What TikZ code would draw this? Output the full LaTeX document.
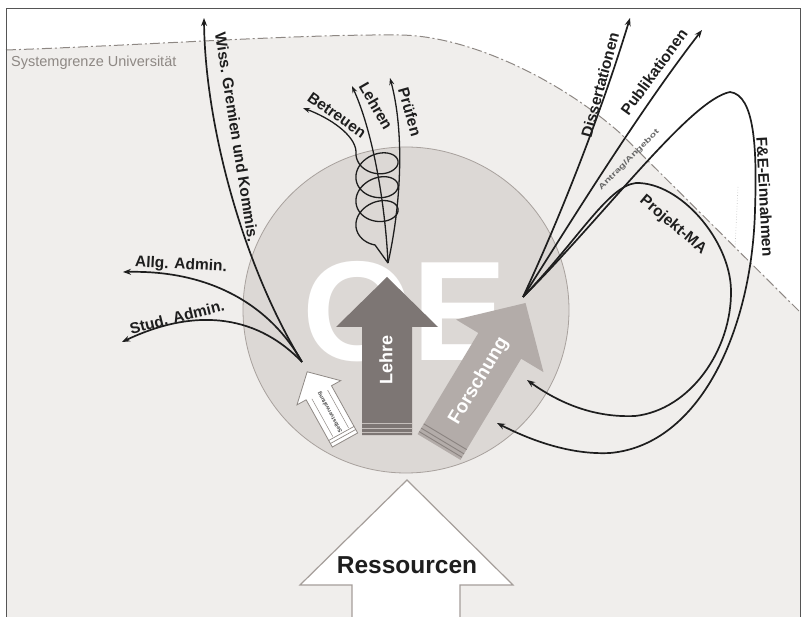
\documentclass[tikz,border=0pt]{standalone}
\usepackage{fontspec}
\setmainfont{Liberation Sans}
\usetikzlibrary{arrows.meta}
\definecolor{bgg}{HTML}{F0EEEC}
\definecolor{bndc}{HTML}{8E8884}
\definecolor{framec}{HTML}{555555}
\definecolor{circf}{HTML}{DCD8D5}
\definecolor{circd}{HTML}{A8A19D}
\definecolor{lehrec}{HTML}{7D7674}
\definecolor{lehrel}{HTML}{C4BEBB}
\definecolor{forsc}{HTML}{B3ACA9}
\definecolor{forsl}{HTML}{8A8380}
\definecolor{smallc}{HTML}{8F8985}
\definecolor{resc}{HTML}{A59E9A}
\definecolor{labc}{HTML}{1E1E1E}
\begin{document}
\begin{tikzpicture}[x=1pt,y=-1pt,
  lbl/.style={font=\fontsize{15.5}{15.5}\selectfont\bfseries, text=labc, inner sep=0pt},
  conn/.style={line width=1.7pt, draw=labc, -{Stealth[length=8pt,width=6pt]}},
  thinconn/.style={line width=1.3pt, draw=labc, -{Stealth[length=7pt,width=5pt]}},
  boundary/.style={draw=bndc, line width=1pt, dash pattern=on 10pt off 3pt on 2pt off 3pt}
]
\useasboundingbox (0,0) rectangle (803,617);
% background region inside system boundary
\fill[bgg] (6,50) .. controls (150,45) and (300,34) .. (400,35) .. controls (470,36) and (560,80) .. (620,133) -- (800,312) -- (800,617) -- (6,617) -- cycle;
\draw[boundary] (6,50) .. controls (150,45) and (300,34) .. (400,35) .. controls (470,36) and (560,80) .. (620,133) -- (800,312);
\coordinate (dA) at (738,187);
\coordinate (dB) at (735,248);
\draw[gray!45, dotted, line width=0.7pt] (dA) -- (dB);
% frame
\draw[framec, line width=0.9pt] (6,617) -- (6,8) -- (800,8) -- (800,617);
\node[anchor=west, inner sep=0pt, text=bndc, font=\fontsize{14.5}{14.5}\selectfont] (sys) at (11,63) {Systemgrenze Universität};

% circle OE
\node[circle, fill=circf, draw=circd, line width=0.8pt, minimum size=326pt, inner sep=0pt] (oe) at (406,310) {};
\node[text=white, font=\fontsize{142}{142}\selectfont\bfseries, inner sep=0pt] (oetext) at (405,312) {OE};

% Lehre arrow
\begin{scope}[shift={(387,435)}]
  \fill[lehrec] (-25,0) -- (-25,-108) -- (-51,-108) -- (0,-158) -- (51,-108) -- (25,-108) -- (25,0) -- cycle;
  \draw[lehrel, line width=1pt] (-25,-12) -- (25,-12) (-25,-7) -- (25,-7) (-25,-3) -- (25,-3);
\end{scope}
\node[text=white, font=\fontsize{18}{18}\selectfont\bfseries, rotate=90, inner sep=0pt] (lehre) at (386,360) {Lehre};

% Forschung arrow
\begin{scope}[shift={(439,447)}, rotate=-31]
  \fill[forsc] (-25,0) -- (-25,-118) -- (-51,-118) -- (0,-168) -- (51,-118) -- (25,-118) -- (25,0) -- cycle;
  \draw[forsl, line width=0.9pt] (-25,-12) -- (25,-12) (-25,-7) -- (25,-7) (-25,-3) -- (25,-3);
\end{scope}
\node[text=white, font=\fontsize{19}{19}\selectfont\bfseries, rotate=59, inner sep=0pt] (fors) at (479,381) {Forschung};

% small white arrow
\begin{scope}[shift={(345,440)}, rotate=29]
  \filldraw[fill=white, draw=smallc, line width=0.8pt] (-14.5,0) -- (-14.5,-54) -- (-25,-54) -- (0,-78) -- (25,-54) -- (14.5,-54) -- (14.5,0) -- cycle;
  \draw[smallc, line width=0.5pt] (-9,-9) -- (-9,-52) (9,-9) -- (9,-52);
  \draw[smallc, line width=0.7pt] (-14.5,-4) -- (14.5,-4) (-14.5,-7.5) -- (14.5,-7.5);
\end{scope}
\node[text=black!70, font=\fontsize{5.5}{5.5}\selectfont\bfseries, rotate=119, inner sep=0pt] (selb) at (330,412) {Selbstverwaltung};

% Ressourcen arrow
\filldraw[fill=white, draw=resc, line width=1.2pt] (352,625) -- (352,585) -- (300,585) -- (407,480) -- (513,585) -- (460,585) -- (460,625);
\node[font=\fontsize{24.5}{24.5}\selectfont\bfseries, text=labc, inner sep=0pt] (res) at (407,565) {Ressourcen};

% connector coordinates
\coordinate (s1) at (302,362);
\coordinate (s2) at (523,297);
\coordinate (p0) at (388,263);
\coordinate (wissT) at (204,18);
\coordinate (allgT) at (123,272);
\coordinate (studT) at (122,342);
\coordinate (betrT) at (303,108);
\coordinate (lehrT) at (352,86);
\coordinate (prufT) at (390,78);
\coordinate (dissT) at (630,18);
\coordinate (publT) at (702,30);
\coordinate (forsA) at (497,423);
\coordinate (forsB) at (527,380);

% left group
\draw[conn] (s1) .. controls (240,260) and (205,120) .. (wissT);
\draw[conn] (s1) .. controls (270,305) and (210,270) .. (allgT);
\draw[conn] (s1) .. controls (260,318) and (200,305) .. (studT);
% Lehre group
\draw[thinconn] (p0) .. controls (385,200) and (372,130) .. (lehrT);
\draw[thinconn] (p0) .. controls (402,200) and (404,130) .. (prufT);
\draw[thinconn] (p0) -- plot[domain=-0.5*pi:6*pi, samples=240, variable=\t, smooth] ({377-21*cos(\t r)+2*sin(\t r)}, {223-3.8*\t-16*sin(\t r)}) .. controls (355,135) and (330,118) .. (betrT);
% right group
\draw[conn] (s2) .. controls (568,200) and (605,100) .. (dissT);
\draw[conn] (s2) .. controls (575,215) and (640,110) .. (publT);
\draw[conn] (s2) .. controls (605,215) and (690,100) .. (730,92) .. controls (755,95) and (757,150) .. (755,210) .. controls (752,330) and (700,445) .. (610,453) .. controls (570,455) and (530,440) .. (forsA);
\draw[conn] (s2) .. controls (578,240) and (608,186) .. (636,183) .. controls (680,182) and (730,240) .. (731,290) .. controls (732,350) and (690,410) .. (635,416) .. controls (590,418) and (555,400) .. (forsB);

% labels
\node[lbl, rotate=-81] (wiss) at (237,137) {Wiss. Gremien und Kommis.};
\node[lbl, rotate=-3] (allg) at (181,265) {Allg. Admin.};
\node[lbl, rotate=14] (stud) at (177,317) {Stud. Admin.};
\node[lbl, rotate=-35] (betr) at (337,115) {Betreuen};
\node[lbl, rotate=-60] (lehr) at (376,106) {Lehren};
\node[lbl, rotate=-74] (pruf) at (410,112) {Prüfen};
\node[lbl, rotate=75] (diss) at (600,85) {Dissertationen};
\node[lbl, rotate=54] (publ) at (654,72) {Publikationen};
\node[inner sep=0pt, text=black!60, font=\fontsize{7.5}{7.5}\selectfont\bfseries, rotate=45] (antr) at (629,160) {\scalebox{1.45}[1]{Antrag/Angebot}};
\node[lbl, rotate=-40] (proj) at (673,225) {Projekt-MA};
\node[lbl, rotate=-87] (fe) at (765,197) {F\&E-Einnahmen};
\end{tikzpicture}
\end{document}
